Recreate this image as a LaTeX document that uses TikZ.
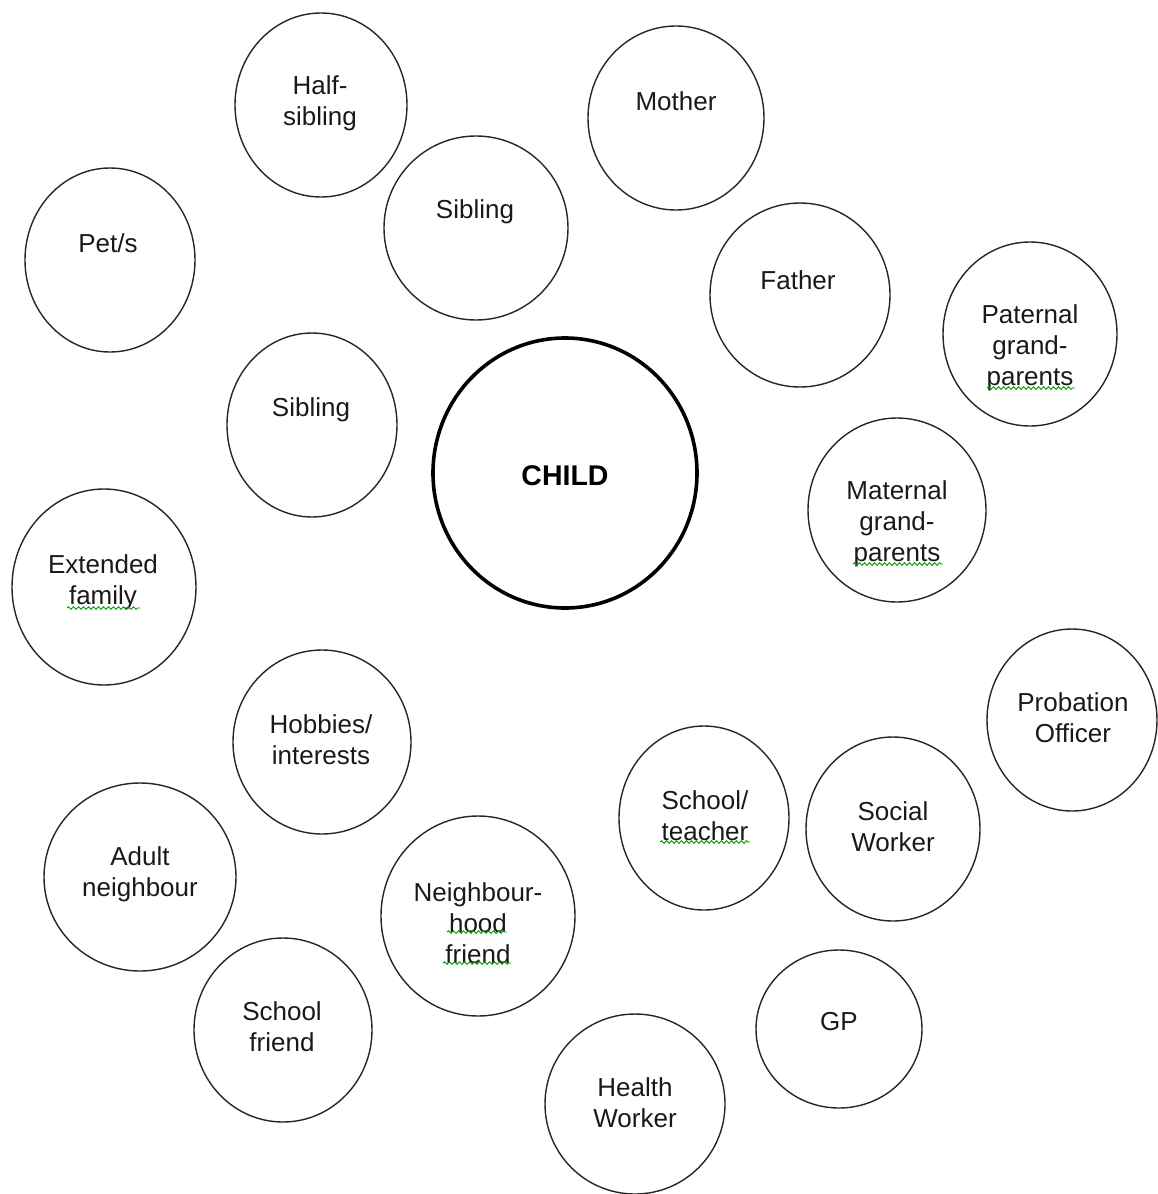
\documentclass[tikz,border=0pt]{standalone}
\usepackage{fontspec}
\setmainfont{Liberation Sans}
\usetikzlibrary{shapes.geometric,decorations.pathmorphing}
\begin{document}
\begin{tikzpicture}[x=1pt,y=-1pt,
  bubble/.style={draw=black!85,line width=1.4pt,ellipse,inner sep=0pt},
  childbubble/.style={draw=black,line width=3.6pt,ellipse,inner sep=0pt},
  lbl/.style={align=center,inner sep=0pt,text=black!90,font=\fontsize{26}{31}\selectfont},
  spell/.style={draw=green!60!black,line width=0.9pt,decorate,decoration={snake,segment length=5pt,amplitude=1.3pt}}]
\useasboundingbox (0,0) rectangle (1157,1194);
\newcommand{\bub}[5]{\node[bubble,minimum width=#4,minimum height=#5] (#1) at (#2,#3) {};}
\bub{halfsib}{321}{105}{172}{184}
\bub{mother}{676}{118}{176}{184}
\bub{sibtop}{476}{228}{184}{184}
\bub{pets}{110}{260}{170}{184}
\bub{father}{800}{295}{180}{184}
\bub{paternal}{1030}{334}{174}{184}
\bub{sibmid}{312}{425}{170}{184}
\node[childbubble,minimum width=264,minimum height=270] (child) at (565,473) {};
\bub{maternal}{897}{510}{178}{184}
\bub{extended}{104}{587}{184}{196}
\bub{probation}{1072}{720}{170}{182}
\bub{hobbies}{322}{742}{178}{184}
\bub{teacher}{704}{818}{170}{184}
\bub{social}{893}{829}{174}{184}
\bub{adult}{140}{877}{192}{188}
\bub{nfriend}{478}{916}{194}{200}
\bub{sfriend}{283}{1030}{178}{184}
\bub{gp}{839}{1029}{166}{158}
\bub{health}{635}{1104}{180}{180}

\node[lbl] (thalfsib) at (320,103) {Half-\\sibling};
\node[lbl] (tmother) at (676,101) {Mother};
\node[lbl] (tsibtop) at (475,212) {Sibling};
\node[lbl] (tpets) at (108,243) {Pet/s};
\node[lbl] (tfather) at (798,280) {Father};
\node[lbl] (tpaternal) at (1030,348) {Paternal\\grand-\\parents};
\node[lbl] (tsibmid) at (311,410) {Sibling};
\node[font=\fontsize{28.5}{34}\selectfont\bfseries,inner sep=0pt] (tchild) at (565,476) {CHILD};
\node[lbl] (tmaternal) at (897,524) {Maternal\\grand-\\parents};
\node[lbl] (textended) at (103,582) {Extended\\family};
\node[lbl] (tprobation) at (1073,718) {Probation\\Officer};
\node[lbl] (thobbies) at (321,740) {Hobbies/\\interests};
\node[lbl] (tteacher) at (705,816) {School/\\teacher};
\node[lbl] (tsocial) at (893,827) {Social\\Worker};
\node[lbl] (tadult) at (140,874) {Adult\\neighbour};
\node[lbl] (tnfriend) at (478,923) {Neighbour-\\hood\\friend};
\node[lbl] (tsfriend) at (282,1027) {School\\friend};
\node[lbl] (tgp) at (839,1022) {GP};
\node[lbl] (thealth) at (635,1103) {Health\\Worker};

\draw[spell] (987,388) -- (1075,388);
\draw[spell] (853,564) -- (943,564);
\draw[spell] (67,608) -- (140,608);
\draw[spell] (660,842) -- (750,842);
\draw[spell] (447,932) -- (507,932);
\draw[spell] (443,963) -- (511,963);
\end{tikzpicture}
\end{document}
